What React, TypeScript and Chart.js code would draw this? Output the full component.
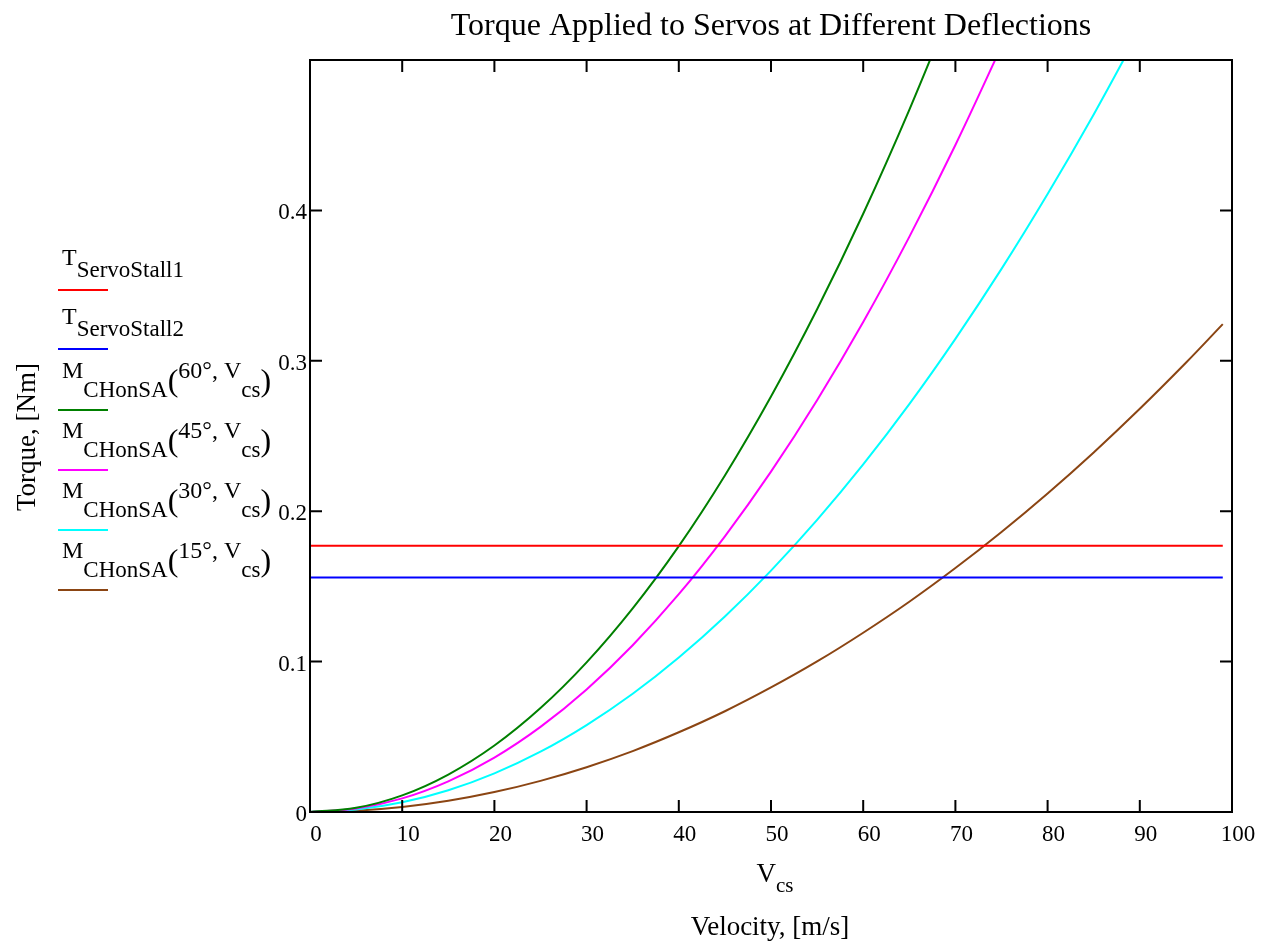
import { useEffect, useRef } from "react";
import { Chart, registerables } from "chart.js";

Chart.register(...registerables);

const FONT = '"Liberation Serif", "Times New Roman", serif';

// ---- data ----
const velocity = [0, 5, 10, 15, 20, 25, 30, 35, 40, 45, 50, 55, 60, 65, 70, 75, 80, 85, 90, 95, 99];
const stallVelocity = [0, 99];
const servoStall1 = [0.177, 0.177];
const servoStall2 = [0.156, 0.156];
const moment60 = [0, 0.00276, 0.01105, 0.0249, 0.0442, 0.0691, 0.0995, 0.1354, 0.1768, 0.2238, 0.2763, 0.3343, 0.3978, 0.4669, 0.5415, null, null, null, null, null, null];
const moment45 = [0, 0.00226, 0.00905, 0.0204, 0.0362, 0.0566, 0.0815, 0.1109, 0.1448, 0.1833, 0.2263, 0.2738, 0.3258, 0.3824, 0.4435, 0.5091, null, null, null, null, null];
const moment30 = [0, 0.0016, 0.00642, 0.01445, 0.0257, 0.0401, 0.0578, 0.0786, 0.1027, 0.13, 0.1605, 0.1942, 0.2311, 0.2712, 0.3146, 0.3611, 0.4109, 0.4638, 0.52, null, null];
const moment15 = [0, 0.00083, 0.00331, 0.00745, 0.01324, 0.0207, 0.0298, 0.0405, 0.053, 0.067, 0.0828, 0.1001, 0.1192, 0.1398, 0.1622, 0.1862, 0.2118, 0.2391, 0.2681, 0.2987, 0.3244];

const xTickValues = [0, 10, 20, 30, 40, 50, 60, 70, 80, 90, 100];
const yTickValues = [0, 0.1, 0.2, 0.3, 0.4];
const yLabelText = ["0", "0.1", "0.2", "0.3", "0.4"];

const titleText = "Torque Applied to Servos at Different Deflections";
const yTitleText = "Torque, [Nm]";
const xTitleMain = "V";
const xTitleSub = "cs";
const xTitleSecond = "Velocity, [m/s]";

const seriesColors = ["#ff0000", "#0000ff", "#008000", "#ff00ff", "#00ffff", "#8b4513"];
const stallNames = ["ServoStall1", "ServoStall2"];
const deflections = ["60°", "45°", "30°", "15°"];
const legendLineY = [290, 349, 410, 470, 530, 590];

type Run = { text: string; size: number; dy: number };

function runsWidth(ctx: CanvasRenderingContext2D, runs: Run[]) {
  let w = 0;
  for (const r of runs) {
    ctx.font = `${r.size}px ${FONT}`;
    w += ctx.measureText(r.text).width;
  }
  return w;
}

function drawRuns(ctx: CanvasRenderingContext2D, x: number, baseline: number, runs: Run[], align: "left" | "center" = "left") {
  let cx = align === "center" ? x - runsWidth(ctx, runs) / 2 : x;
  ctx.textAlign = "left";
  ctx.textBaseline = "alphabetic";
  for (const r of runs) {
    ctx.font = `${r.size}px ${FONT}`;
    ctx.fillText(r.text, cx, baseline + r.dy);
    cx += ctx.measureText(r.text).width;
  }
}

const decorPlugin = {
  id: "decor",
  afterDraw(chart: any) {
    const ctx: CanvasRenderingContext2D = chart.ctx;
    const { left, right, top, bottom } = chart.chartArea;
    const xs = chart.scales.x;
    const ys = chart.scales.y;
    ctx.save();
    ctx.strokeStyle = "#000";
    ctx.lineWidth = 2;
    ctx.strokeRect(left, top, right - left, bottom - top);
    const tick = 12;
    ctx.beginPath();
    for (const v of xTickValues) {
      const px = xs.getPixelForValue(v);
      if (px <= left + 2 || px >= right - 2) continue;
      ctx.moveTo(px, bottom);
      ctx.lineTo(px, bottom - tick);
      ctx.moveTo(px, top);
      ctx.lineTo(px, top + tick);
    }
    for (const v of yTickValues) {
      const py = ys.getPixelForValue(v);
      if (py >= bottom - 2 || py <= top + 2) continue;
      ctx.moveTo(left, py);
      ctx.lineTo(left + tick, py);
      ctx.moveTo(right, py);
      ctx.lineTo(right - tick, py);
    }
    ctx.stroke();

    ctx.fillStyle = "#000";
    drawRuns(ctx, (left + right) / 2, 35, [{ text: titleText, size: 32, dy: 0 }], "center");
    drawRuns(ctx, 775, 882, [
      { text: xTitleMain, size: 27, dy: 0 },
      { text: xTitleSub, size: 21, dy: 10 },
    ], "center");
    drawRuns(ctx, 770, 935, [{ text: xTitleSecond, size: 27, dy: 0 }], "center");
    ctx.save();
    ctx.translate(35, 437);
    ctx.rotate(-Math.PI / 2);
    drawRuns(ctx, 0, 0, [{ text: yTitleText, size: 27, dy: 0 }], "center");
    ctx.restore();

    const rows: Run[][] = [];
    stallNames.forEach((n) => {
      rows.push([
        { text: "T", size: 24, dy: -25 },
        { text: n, size: 23, dy: -13 },
      ]);
    });
    deflections.forEach((d) => {
      rows.push([
        { text: "M", size: 24, dy: -32 },
        { text: "CHonSA", size: 23, dy: -13 },
        { text: "(", size: 32, dy: -19 },
        { text: `${d}, V`, size: 24, dy: -32 },
        { text: "cs", size: 23, dy: -13 },
        { text: ")", size: 32, dy: -19 },
      ]);
    });
    rows.forEach((runs, i) => {
      const ly = legendLineY[i];
      ctx.fillStyle = "#000";
      drawRuns(ctx, 62, ly, runs);
      ctx.strokeStyle = seriesColors[i];
      ctx.lineWidth = 2;
      ctx.beginPath();
      ctx.moveTo(58, ly);
      ctx.lineTo(108, ly);
      ctx.stroke();
    });
    ctx.restore();
  },
};

export default function App() {
  const ref = useRef<HTMLCanvasElement | null>(null);
  useEffect(() => {
    if (!ref.current) return;
    const pts = (xsArr: number[], ysArr: (number | null)[]) => xsArr.map((x, i) => ({ x, y: ysArr[i] }));
    const mk = (label: string, data: any[], color: string) => ({
      label,
      data,
      borderColor: color,
      backgroundColor: color,
      borderWidth: 2,
      pointRadius: 0,
      fill: false,
      tension: 0.4,
      spanGaps: false,
    });
    const chart = new Chart(ref.current, {
      type: "line",
      data: {
        datasets: [
          mk("T_ServoStall1", pts(stallVelocity, servoStall1), seriesColors[0]),
          mk("T_ServoStall2", pts(stallVelocity, servoStall2), seriesColors[1]),
          mk("M_CHonSA(60°, V_cs)", pts(velocity, moment60), seriesColors[2]),
          mk("M_CHonSA(45°, V_cs)", pts(velocity, moment45), seriesColors[3]),
          mk("M_CHonSA(30°, V_cs)", pts(velocity, moment30), seriesColors[4]),
          mk("M_CHonSA(15°, V_cs)", pts(velocity, moment15), seriesColors[5]),
        ] as any,
      },
      options: {
        responsive: false,
        animation: false,
        events: [],
        layout: { padding: { left: 0, top: 60, right: 36, bottom: 0 } },
        plugins: { legend: { display: false }, tooltip: { enabled: false }, title: { display: false } },
        scales: {
          x: {
            type: "linear",
            min: 0,
            max: 100,
            afterBuildTicks: (scale: any) => {
              scale.ticks = xTickValues.map((v) => ({ value: v }));
            },
            ticks: {
              color: "#000",
              font: { family: FONT, size: 23 },
              padding: 9,
              labelOffset: 6,
              maxRotation: 0,
              autoSkip: false,
              callback: (v: any) => String(v),
            },
            grid: { display: false, drawTicks: false },
            border: { display: false },
            afterFit: (scale: any) => {
              scale.height = 946 - 812;
            },
          },
          y: {
            type: "linear",
            min: 0,
            max: 0.5,
            afterBuildTicks: (scale: any) => {
              scale.ticks = yTickValues.map((v) => ({ value: v }));
            },
            ticks: {
              color: "#000",
              font: { family: FONT, size: 23 },
              padding: 3,
              labelOffset: 3,
              autoSkip: false,
              callback: (_v: any, i: number) => yLabelText[i],
            },
            grid: { display: false, drawTicks: false },
            border: { display: false },
            afterFit: (scale: any) => {
              scale.width = 310;
            },
          },
        },
      } as any,
      plugins: [decorPlugin],
    });
    return () => chart.destroy();
  }, []);
  return (
    <div style={{ position: "absolute", left: 0, top: 0, width: 1268, height: 946, background: "#fff" }}>
      <canvas ref={ref} width={1268} height={946} style={{ display: "block", width: 1268, height: 946 }} />
    </div>
  );
}
